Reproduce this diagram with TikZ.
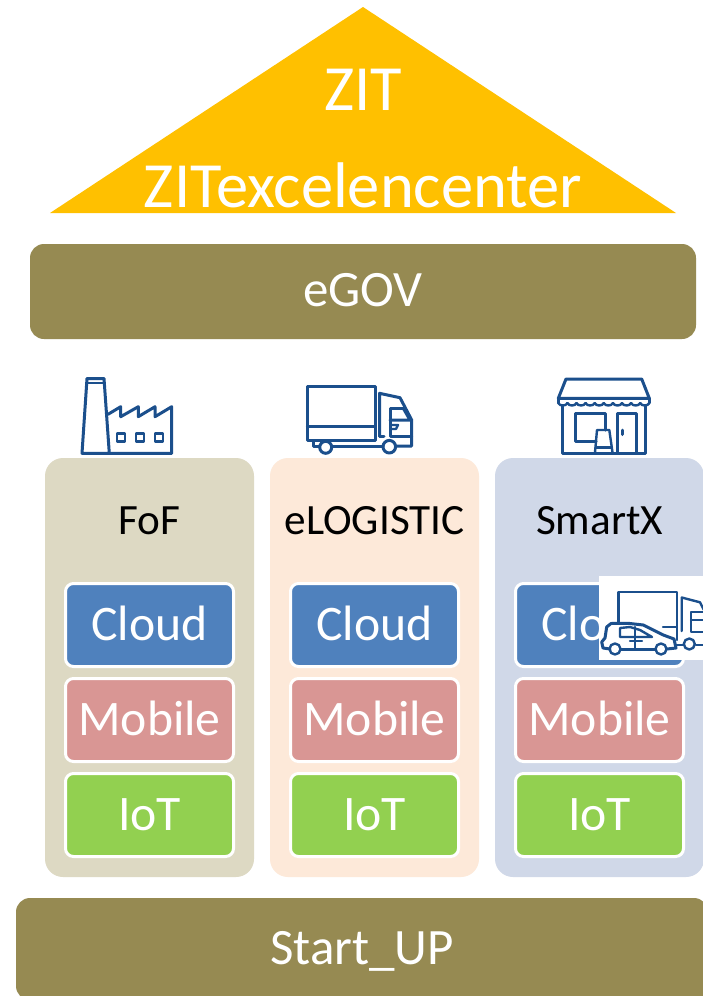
\documentclass[tikz,border=0pt]{standalone}
\usepackage{fontspec}
\setmainfont{Carlito}
\definecolor{gold}{HTML}{FFC000}
\definecolor{olive}{HTML}{968A52}
\definecolor{colA}{HTML}{DDD9C3}
\definecolor{colB}{HTML}{FDE9D9}
\definecolor{colC}{HTML}{D0D8E8}
\definecolor{cellblue}{HTML}{4F81BD}
\definecolor{cellpink}{HTML}{D99694}
\definecolor{cellgreen}{HTML}{92D050}
\definecolor{iconblue}{HTML}{1B4F8C}
\tikzset{
  bar/.style={fill=olive,rounded corners=14pt,inner sep=0pt,text=white,text height=30pt,text depth=0pt,font=\fontsize{51}{57}\selectfont},
  column/.style={rounded corners=18pt,inner sep=0pt,minimum width=209pt,minimum height=419pt},
  cell/.style={draw=white,line width=3pt,rounded corners=8pt,inner sep=0pt,minimum width=168pt,minimum height=83pt,text=white,text height=30pt,text depth=0pt,font=\fontsize{49.7}{55}\selectfont},
  heading/.style={inner sep=0pt,text=black,font=\fontsize{43.2}{48}\selectfont},
  peak/.style={inner sep=0pt,text=white,font=\fontsize{64.5}{70}\selectfont},
  icon/.style={draw=iconblue,line width=3pt,line join=round,line cap=round},
  thinicon/.style={draw=iconblue,line width=2.4pt,line join=round,line cap=round}
}
\begin{document}
\begin{tikzpicture}[x=1pt,y=-1pt]
\path[use as bounding box,clip] (0,0) rectangle (703,996);
\fill[white] (0,0) rectangle (703,996);
% roof
\fill[gold] (363,7) -- (676,213) -- (50,213) -- cycle;
\node[peak,anchor=base] (zit) at (363,110) {ZIT};
\node[peak,anchor=base] (zitx) at (363,207) {ZITexcelencenter};
% bars
\node[bar,minimum width=666pt,minimum height=95pt] (egov) at (363,291.5) {eGOV};
\node[bar,minimum width=692pt,minimum height=102pt] (startup) at (362,949) {Start\_UP};
% columns
\node[column,fill=colA] (c1) at (149.5,667.5) {};
\node[column,fill=colB] (c2) at (374.5,667.5) {};
\node[column,fill=colC] (c3) at (599.5,667.5) {};
\node[heading,anchor=base] (h1) at (149.5,534) {FoF};
\node[heading,anchor=base] (h2) at (374.5,534) {eLOGISTIC};
\node[heading,anchor=base] (h3) at (599.5,534) {SmartX};
\foreach \cx/\n in {149.5/a,374.5/b,599.5/c}{
  \node[cell,fill=cellblue] (cloud\n) at (\cx,625) {Cloud};
  \node[cell,fill=cellpink] (mobile\n) at (\cx,720) {Mobile};
  \node[cell,fill=cellgreen] (iot\n) at (\cx,815) {IoT};
}
% factory icon
\draw[icon] (82,453.3) -- (87,378.5) -- (104,378.5) -- (109.3,453.3) -- cycle;
\draw[icon,line width=1.6pt] (86.5,383) -- (104.5,383);
\draw[icon] (108,414.3) -- (120.7,406.7) -- (120.7,416.7) -- (138.3,406.7) -- (138.3,416.7) -- (155,406.7) -- (155,416.7) -- (171.7,406.7) -- (171.7,453.3) -- (109.3,453.3);
\foreach \wx in {117,136,155}{
  \draw[thinicon] (\wx,433.5) rectangle ++(8,8);
}
% truck icon
\draw[icon] (307.3,386.7) rectangle (375,440);
\draw[icon] (307.3,426.7) -- (375,426.7);
\draw[icon] (313.5,441) -- (313.5,446) -- (319.5,446);
\draw[icon] (332,446) -- (383,446);
\draw[icon] (325.7,447.3) circle (6);
\draw[icon] (389.3,446.7) circle (6.3);
\draw[icon] (379.5,436) -- (379.5,393.3) -- (400,397.7) -- (411.7,420) -- (411.7,446) -- (396.5,446);
\draw[icon] (403.3,408.3) -- (390,408.3) -- (390,436.7) -- (411.7,436.7);
\draw[icon] (403.3,408.3) -- (410,420) -- (390,420);
\draw[thinicon] (391,425) -- (398,425) -- (396,429) -- (391,429);
\draw[icon] (379.5,436) -- (384,436);
% shop icon
\draw[icon] (566,379) -- (641.7,379) -- (649.3,398.3) -- (558.3,398.3) -- cycle;
\draw[icon] (558.3,398.3) -- (558.3,403);
\draw[icon] (649.3,398.3) -- (649.3,403);
\foreach \i in {0,...,9}{
  \draw[thinicon] ({558.3+\i*9.1},403) to[bend right=70] ({558.3+(\i+1)*9.1},403);
}
\draw[icon] (562.7,406) -- (562.7,453.3) -- (645,453.3) -- (645,406);
\draw[icon] (596,441.7) -- (575,441.7) -- (575,413.3) -- (605,413.3) -- (605,430);
\draw[icon] (617.3,453.3) -- (617.3,413.3) -- (636.7,413.3) -- (636.7,453.3);
\draw[icon] (622.3,430) -- (622.3,434.5);
\draw[thinicon] (595,452.3) -- (597,430) -- (609.3,430) -- (612.5,452.3);
\draw[thinicon] (596,447.5) -- (611.5,447.5);
% pasted vehicle picture
\fill[white] (599,576) rectangle (703,660);
\draw[thinicon] (618.3,626) -- (618.3,591.7) -- (676.7,591.7) -- (676.7,640);
\draw[thinicon] (663,627) -- (676.7,627);
\draw[thinicon] (681.7,631) -- (681.7,597.5) -- (700,602.3) -- (705,612);
\draw[thinicon] (705,612) -- (691,612) -- (691,632) -- (705,632);
\draw[thinicon] (691,620) -- (705,620);
\draw[thinicon] (689.3,644) circle (5.5);
\draw[thinicon] (676,645) -- (683.5,645);
\draw[thinicon] (696,645) -- (705,645);
% car
\fill[white] (606.7,627) -- (611,623.5) -- (628,623.3) -- (643.3,625) -- (663.3,635) -- (674,639) -- (676,648) -- (603,648) -- (601.7,642) -- (605,638) -- cycle;
\draw[icon] (610,649) -- (603,648) -- (601.7,642) -- (605,638) -- (606.7,627) -- (611,623.5) -- (628,623.3) -- (643.3,625) -- (663.3,635) -- (674,639) -- (676,648) -- (667,649);
\draw[icon] (620.5,649.5) -- (655.5,649.5);
\draw[thinicon] (615,649) circle (5.5);
\draw[thinicon] (661,649) circle (5.5);
\draw[thinicon] (620,628) -- (620,637) -- (652,637) -- (640,630) -- (630,627) -- (620,628);
\draw[thinicon] (635,627) -- (635,648);
\draw[thinicon] (630,641) -- (642,641);
\end{tikzpicture}
\end{document}
